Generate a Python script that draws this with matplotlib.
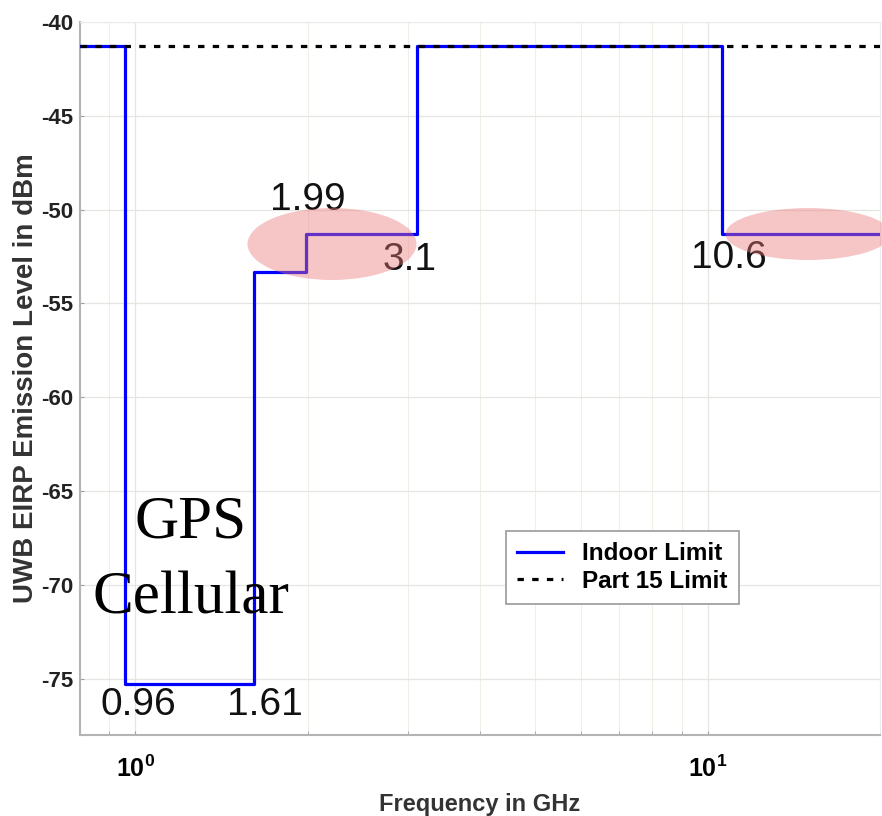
import matplotlib
matplotlib.use("Agg")
import matplotlib.pyplot as plt
from matplotlib.patches import Ellipse
from matplotlib.ticker import FixedLocator, FixedFormatter, LogLocator, NullFormatter

plt.rcParams["font.family"] = ["Liberation Sans", "DejaVu Sans"]
plt.rcParams["mathtext.fontset"] = "custom"
plt.rcParams["mathtext.rm"] = "Liberation Sans:bold"
plt.rcParams["mathtext.bf"] = "Liberation Sans:bold"

# FCC UWB indoor mask (GHz, dBm) - step edges
indoor_freq = [0.8, 0.96, 0.96, 1.61, 1.61, 1.99, 1.99, 3.1, 3.1, 10.6, 10.6, 20.0]
indoor_level = [-41.3, -41.3, -75.3, -75.3, -53.3, -53.3, -51.3, -51.3, -41.3, -41.3, -51.3, -51.3]
part15_freq = [0.8, 20.0]
part15_level = [-41.3, -41.3]

# edge annotations: (text, x, y)
edge_labels = [("0.96", 1.01, -76.4), ("1.61", 1.68, -76.4), ("1.99", 2.0, -49.5),
               ("3.1", 3.01, -52.7), ("10.6", 10.9, -52.6)]
band_labels = [("GPS", 1.25, -67.5), ("Cellular", 1.25, -71.5)]

yticks = [-40, -45, -50, -55, -60, -65, -70, -75]
xticks = [1, 10]
xtick_labels = [r"$10^{0}$", r"$10^{1}$"]

fig = plt.figure(figsize=(8.82, 8.16), dpi=100)
ax = fig.add_axes([0.0907, 0.0993, 0.907, 0.8737])

ax.plot(indoor_freq, indoor_level, color="#0000ff", lw=2.3, label="Indoor Limit", zorder=3)
ax.plot(part15_freq, part15_level, color="black", lw=2.3, dashes=(2.0, 2.6),
        label="Part 15 Limit", zorder=4)

ax.set_xscale("log")
ax.set_xlim(0.8, 20)
ax.set_ylim(-78, -40)

ax.xaxis.set_major_locator(FixedLocator(xticks))
ax.xaxis.set_major_formatter(FixedFormatter(xtick_labels))
ax.xaxis.set_minor_locator(LogLocator(base=10, subs=range(2, 10)))
ax.xaxis.set_minor_formatter(NullFormatter())
ax.set_yticks(yticks)
ax.set_yticklabels([str(v) for v in yticks])

ax.grid(True, which="major", color="#e6e6e0", lw=0.9)
ax.grid(True, which="minor", axis="x", color="#efefe8", lw=0.8)
ax.set_axisbelow(True)

for side in ["left", "bottom"]:
    ax.spines[side].set_color("#b4b4b4")
    ax.spines[side].set_linewidth(1.5)
for side in ["top", "right"]:
    ax.spines[side].set_color("#ececec")

ax.tick_params(axis="both", which="both", direction="in", color="#a0a0a0", length=3)
ax.tick_params(axis="y", labelsize=16, pad=5)
ax.tick_params(axis="x", labelsize=18, pad=15)
for lbl in ax.get_yticklabels():
    lbl.set_fontweight("bold")
    lbl.set_color("#222222")

ax.set_xlabel("Frequency in GHz", fontsize=17, fontweight="bold", color="#333333", labelpad=8)
ax.set_ylabel("UWB EIRP Emission Level in dBm", fontsize=20, fontweight="bold",
              color="#333333", labelpad=1)

for txt, x, y in edge_labels:
    ax.text(x, y, txt, fontsize=28, ha="center", va="center", color="#111111", zorder=6)
for txt, x, y in band_labels:
    ax.text(x, y, txt, fontsize=44, ha="center", va="baseline",
            family=["Liberation Serif", "DejaVu Serif"], color="black", zorder=6)

# highlighted regions (pixel sizes converted to figure fractions)
for cx, cy, w, h in [(332, 244, 169, 72), (808, 234, 165, 52)]:
    fig.patches.append(Ellipse((cx / 882, 1 - cy / 816), w / 882, h / 816,
                               transform=fig.transFigure, facecolor=(0.92, 0.47, 0.47),
                               edgecolor="none", alpha=0.42, zorder=5))

leg = ax.legend(loc="upper left", bbox_to_anchor=(0.517, 0.303), fancybox=False,
                framealpha=1, edgecolor="#999999", handlelength=1.9,
                prop={"weight": "bold", "size": 17.5}, borderpad=0.45, labelspacing=0.2)
leg.get_frame().set_linewidth(1.2)

fig.savefig("out.png", dpi=100)
